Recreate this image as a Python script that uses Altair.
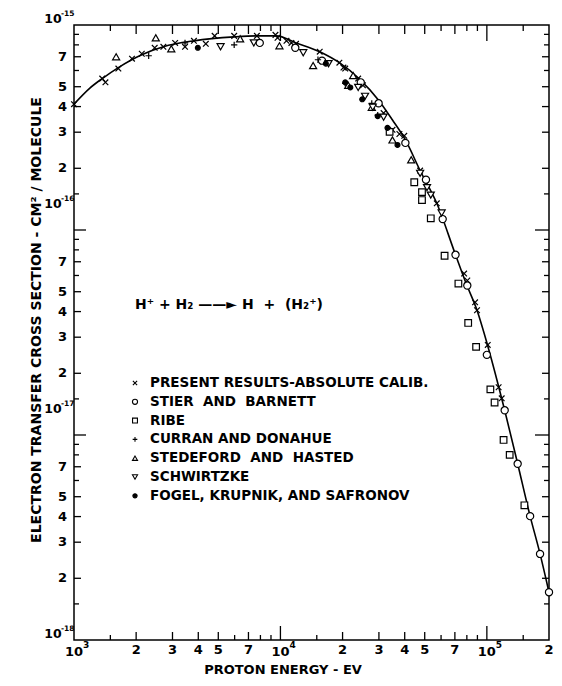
import altair as alt
import pandas as pd

# ---------------- data ----------------
NB = "\u00a0"
SERIES = ["PRESENT RESULTS-ABSOLUTE CALIB.",
          f"STIER{NB} AND{NB} BARNETT",
          "RIBE",
          "CURRAN AND DONAHUE",
          f"STEDEFORD{NB} AND{NB} HASTED",
          "SCHWIRTZKE",
          "FOGEL, KRUPNIK, AND SAFRONOV"]

present_x = [1000, 1370, 1420, 1640, 1910, 2130, 2460, 2710, 3090, 3450, 3810, 4350, 4800,
             5970, 7690, 9460, 9680, 10700, 11300, 11900, 15500, 19300, 20200, 20600, 23800,
             25100, 31600, 34900, 37700, 39800, 47500, 57200, 61100, 77600, 80400, 87700,
             89600, 101000, 114000, 118000]
present_y = [4.11e-16, 5.48e-16, 5.25e-16, 6.13e-16, 6.85e-16, 7.24e-16, 7.74e-16, 7.83e-16,
             8.18e-16, 7.83e-16, 8.37e-16, 8.09e-16, 8.85e-16, 8.85e-16, 8.85e-16, 8.95e-16,
             8.66e-16, 8.37e-16, 8.18e-16, 8.09e-16, 7.41e-16, 6.55e-16, 6.20e-16, 6.13e-16,
             5.48e-16, 5.08e-16, 3.72e-16, 3.08e-16, 2.94e-16, 2.88e-16, 1.95e-16, 1.35e-16,
             1.13e-16, 6.13e-17, 5.67e-17, 4.44e-17, 4.06e-17, 2.75e-17, 1.71e-17, 1.51e-17]

stier_x = [7940, 11800, 15900, 24500, 29900, 40300, 50700, 61100, 70500, 80400, 100000,
           122000, 141000, 162000, 181000, 200000]
stier_y = [8.18e-16, 7.74e-16, 6.70e-16, 5.25e-16, 4.15e-16, 2.66e-16, 1.76e-16, 1.13e-16,
           7.57e-17, 5.36e-17, 2.46e-17, 1.32e-17, 7.24e-18, 4.02e-18, 2.63e-18, 1.71e-18]

ribe_x = [33800, 44500, 48500, 48500, 53500, 62400, 72800, 81200, 88700, 104000, 109000,
          120500, 129000, 152000]
ribe_y = [3.01e-16, 1.71e-16, 1.53e-16, 1.40e-16, 1.14e-16, 7.49e-17, 5.48e-17, 3.52e-17,
          2.69e-17, 1.67e-17, 1.44e-17, 9.46e-18, 8.0e-18, 4.54e-18]

curran_x = [2300, 3450, 5970, 15200, 20600, 27700, 29600]
curran_y = [7.08e-16, 8.18e-16, 8.0e-16, 6.77e-16, 5.19e-16, 4.15e-16, 3.63e-16]

stedeford_x = [1600, 2490, 2960, 6380, 9890, 14400, 22500, 21300, 27700, 34900, 43000]
stedeford_y = [7.0e-16, 8.66e-16, 7.66e-16, 8.56e-16, 7.92e-16, 6.34e-16, 5.67e-16, 5.08e-16,
               3.97e-16, 2.75e-16, 2.20e-16]

schwirtzke_x = [5130, 7430, 12900, 17100, 23800, 25700, 28000, 31600, 47500, 51300, 53500, 60400]
schwirtzke_y = [7.83e-16, 8.18e-16, 7.32e-16, 6.48e-16, 4.96e-16, 4.49e-16, 3.97e-16, 3.55e-16,
                1.89e-16, 1.61e-16, 1.48e-16, 1.21e-16]

fogel_x = [3980, 16600, 20600, 21800, 24900, 29600, 33000, 36900]
fogel_y = [7.74e-16, 6.48e-16, 5.25e-16, 4.96e-16, 4.34e-16, 3.59e-16, 3.15e-16, 2.60e-16]

curve_x = [1000, 1190, 1370, 1640, 2130, 2710, 3810, 5970, 7690, 9570, 11900, 15500, 19300,
           24000, 29900, 34900, 40300, 47500, 57200, 70500, 79400, 89600, 101000, 122000,
           141000, 162000, 181000, 200000]
curve_y = [4.11e-16, 4.91e-16, 5.48e-16, 6.20e-16, 7.16e-16, 7.83e-16, 8.37e-16, 8.75e-16,
           8.85e-16, 8.85e-16, 8.18e-16, 7.41e-16, 6.55e-16, 5.48e-16, 4.30e-16, 3.44e-16,
           2.75e-16, 1.95e-16, 1.35e-16, 7.57e-17, 5.48e-17, 4.06e-17, 2.72e-17, 1.32e-17,
           7.24e-18, 4.02e-18, 2.63e-18, 1.71e-18]

# tick labels
x_label_vals = [2000, 3000, 4000, 5000, 7000, 20000, 30000, 40000, 50000, 70000, 200000]
x_label_txt = ["2", "3", "4", "5", "7", "2", "3", "4", "5", "7", "2"]
x_dec_vals = [1000, 10000, 100000]
x_dec_exp = ["3", "4", "5"]
y_label_vals = [2e-18, 3e-18, 4e-18, 5e-18, 7e-18, 2e-17, 3e-17, 4e-17, 5e-17, 7e-17,
                2e-16, 3e-16, 4e-16, 5e-16, 7e-16]
y_label_txt = ["2", "3", "4", "5", "7"] * 3
y_dec_corner_vals = [1e-18, 1e-15]
y_dec_corner_exp = ["-18", "-15"]
y_dec_inner_vals = [1e-17, 1e-16]
y_dec_inner_exp = ["-17", "-16"]

x_ticks_major = [10000, 100000]
x_ticks_mid = [2000, 3000, 4000, 5000, 7000, 20000, 30000, 40000, 50000, 70000]
x_ticks_minor = [1500, 6000, 8000, 9000, 15000, 60000, 80000, 90000, 150000]
y_ticks_major = [1e-17, 1e-16]
y_ticks_mid = [2e-18, 3e-18, 4e-18, 5e-18, 7e-18, 2e-17, 3e-17, 4e-17, 5e-17, 7e-17,
               2e-16, 3e-16, 4e-16, 5e-16, 7e-16]
y_ticks_minor = [1.5e-18, 6e-18, 8e-18, 9e-18, 1.5e-17, 6e-17, 8e-17, 9e-17,
                 1.5e-16, 6e-16, 8e-16, 9e-16]

REACTION = f"H\u207a + H\u2082 \u2014\u2014\u25ba H {NB}+ {NB}(H\u2082\u207a)"
Y_TITLE = "ELECTRON  TRANSFER  CROSS  SECTION - CM\u00b2 / MOLECULE"
X_TITLE = "PROTON  ENERGY - EV"

# ---------------- chart ----------------
W, H = 475, 615
FONT = "DejaVu Sans"
xs = alt.Scale(type="log", domain=[1000, 200000], nice=False)
ys = alt.Scale(type="log", domain=[1e-18, 1e-15], nice=False)

X_PATH = "M-1,-1L1,1M1,-1L-1,1"
PLUS_PATH = "M-1,0L1,0M0,-1L0,1"
STYLES = [  # shape, fill, size (data), size (legend)
    (X_PATH, "white", 32, 18),
    ("circle", "white", 52, 26),
    ("square", "white", 44, 24),
    (PLUS_PATH, "white", 40, 22),
    ("triangle-up", "white", 50, 26),
    ("triangle-down", "white", 50, 26),
    ("circle", "black", 24, 18),
]
XS = [present_x, stier_x, ribe_x, curran_x, stedeford_x, schwirtzke_x, fogel_x]
YS = [present_y, stier_y, ribe_y, curran_y, stedeford_y, schwirtzke_y, fogel_y]

X_ = lambda f: alt.X(f, scale=xs, axis=None)
Y_ = lambda f: alt.Y(f, scale=ys, axis=None)

layers = []


def xticks(vals, length, top):
    df = pd.DataFrame({"v": vals})
    if top:
        yy, yy2 = alt.value(0), alt.value(length)
    else:
        yy, yy2 = alt.value(H), alt.value(H - length)
    return alt.Chart(df).mark_rule(color="black", strokeWidth=1.3).encode(x=X_("v:Q"), y=yy, y2=yy2)


def yticks(vals, length, right):
    df = pd.DataFrame({"v": vals})
    if right:
        xx, xx2 = alt.value(W), alt.value(W - length)
    else:
        xx, xx2 = alt.value(0), alt.value(length)
    return alt.Chart(df).mark_rule(color="black", strokeWidth=1.3).encode(y=Y_("v:Q"), x=xx, x2=xx2)


layers += [
    xticks(x_ticks_major, 14, False), xticks(x_ticks_mid, 8, False), xticks(x_ticks_minor, 5, False),
    xticks(x_ticks_major, 16, True), xticks(x_ticks_mid, 9, True), xticks(x_ticks_minor, 6, True),
    yticks(y_ticks_major, 12, False), yticks(y_ticks_mid, 7, False), yticks(y_ticks_minor, 5, False),
    yticks(y_ticks_major, 14, True), yticks(y_ticks_mid, 7, True), yticks(y_ticks_minor, 5, True),
]

# fitted curve
layers.append(alt.Chart(pd.DataFrame({"x": curve_x, "y": curve_y})).mark_line(
    color="black", strokeWidth=1.6, interpolate="monotone").encode(x=X_("x:Q"), y=Y_("y:Q")))

# data points
for name, (shp, fl, sz, _), xv, yv in zip(SERIES, STYLES, XS, YS):
    df = pd.DataFrame({"x": xv, "y": yv, "series": name})
    layers.append(alt.Chart(df).mark_point(
        shape=shp, filled=True, fill=fl, stroke="black", strokeWidth=1.2, size=sz, opacity=1
    ).encode(x=X_("x:Q"), y=Y_("y:Q")))

TXT = dict(font=FONT, fontWeight="bold", color="black")

# x tick labels
layers.append(alt.Chart(pd.DataFrame({"v": x_label_vals, "t": x_label_txt})).mark_text(
    fontSize=13, baseline="top", align="center", **TXT).encode(
    x=X_("v:Q"), y=alt.value(H + 4), text="t:N"))
xdec = pd.DataFrame({"v": x_dec_vals, "e": x_dec_exp})
layers.append(alt.Chart(xdec).mark_text(text="10", fontSize=13, baseline="top", align="center", **TXT).encode(
    x=X_("v:Q"), y=alt.value(H + 6)))
layers.append(alt.Chart(xdec).mark_text(fontSize=9, baseline="top", align="left", dx=9, **TXT).encode(
    x=X_("v:Q"), y=alt.value(H + 1), text="e:N"))

# y tick labels
layers.append(alt.Chart(pd.DataFrame({"v": y_label_vals, "t": y_label_txt})).mark_text(
    fontSize=13, baseline="middle", align="right", **TXT).encode(
    y=Y_("v:Q"), x=alt.value(-7), text="t:N"))
for vals, exps, off in [(y_dec_corner_vals, y_dec_corner_exp, 0), (y_dec_inner_vals, y_dec_inner_exp, -20)]:
    ydec = pd.DataFrame({"v": vals, "e": exps})
    layers.append(alt.Chart(ydec).mark_text(text="10", fontSize=12.5, baseline="bottom", align="center",
                                            dy=1 + off, **TXT).encode(
        y=Y_("v:Q"), x=alt.value(-21)))
    layers.append(alt.Chart(ydec).mark_text(fontSize=7.5, baseline="bottom", align="left",
                                            dy=-7 + off, **TXT).encode(
        y=Y_("v:Q"), x=alt.value(-13), text="e:N"))

# reaction
layers.append(alt.Chart(pd.DataFrame({"t": [REACTION]})).mark_text(
    fontSize=14, align="left", baseline="middle", **TXT).encode(
    x=alt.value(61), y=alt.value(280), text="t:N"))

# legend (manual)
for i, (name, (shp, fl, _, lsz)) in enumerate(zip(SERIES, STYLES)):
    yy = 358 + 18.8 * i
    d = pd.DataFrame({"t": [name]})
    layers.append(alt.Chart(d).mark_point(
        shape=shp, filled=True, fill=fl, stroke="black", strokeWidth=1.1, size=lsz, opacity=1
    ).encode(x=alt.value(61), y=alt.value(yy)))
    layers.append(alt.Chart(d).mark_text(fontSize=13.5, align="left", baseline="middle", **TXT).encode(
        x=alt.value(76), y=alt.value(yy), text="t:N"))

# axis titles
layers.append(alt.Chart(pd.DataFrame({"t": [Y_TITLE]})).mark_text(
    fontSize=14, angle=270, align="center", baseline="middle", **TXT).encode(
    x=alt.value(-37), y=alt.value(295), text="t:N"))
layers.append(alt.Chart(pd.DataFrame({"t": [X_TITLE]})).mark_text(
    fontSize=13, align="center", baseline="middle", **TXT).encode(
    x=alt.value(209), y=alt.value(645), text="t:N"))

chart = alt.layer(*layers).properties(
    width=W, height=H,
    autosize=alt.AutoSizeParams(type="none"),
    padding={"left": 66, "top": 17, "right": 5, "bottom": 38},
).configure_view(stroke="black", strokeWidth=1.5)

chart.save("out.html", embed_options={"renderer": "svg", "actions": False})
